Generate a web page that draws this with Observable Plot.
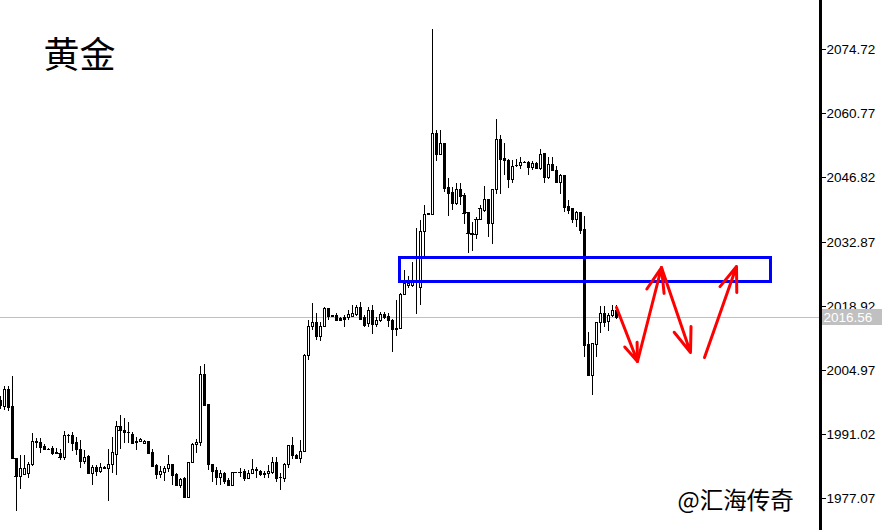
<!DOCTYPE html>
<html><head><meta charset="utf-8">
<script src="https://cdn.jsdelivr.net/npm/d3@7"></script>
<script src="https://cdn.jsdelivr.net/npm/@observablehq/plot@0.6"></script>
<style>body{margin:0;background:#fff;} #chart svg{display:block}</style>
</head><body><div id="chart"></div>
<script>
// OHLC of each bar (bar index = position in arrays)
const opens = [1998.5,1997.2,2000.8,1997.2,1985.9,1982.0,1982.4,1982.5,1984.5,1989.6,
1989.3,1988.4,1987.9,1988.0,1987.2,1987.0,1986.1,1990.9,1990.9,1989.4,
1987.8,1985.1,1986.3,1982.5,1983.8,1983.1,1983.8,1983.6,1984.5,1986.8,
1992.8,1992.0,1991.6,1991.1,1989.6,1989.5,1989.0,1989.5,1987.1,1984.3,
1982.3,1982.9,1983.6,1984.5,1982.3,1979.9,1981.5,1977.4,1984.9,1988.8,
1989.3,2004.2,1997.5,1984.6,1983.2,1981.8,1982.5,1981.0,1979.9,1982.7,
1982.7,1983.0,1981.6,1982.5,1983.5,1983.0,1982.5,1982.5,1982.9,1984.9,
1981.8,1981.6,1984.5,1988.6,1986.6,1985.9,1987.3,2008.3,2014.5,2015.3,
2012.4,2014.5,2018.4,2016.9,2016.9,2016.3,2016.4,2016.4,2016.8,2017.1,
2018.7,2016.4,2015.1,2018.1,2015.0,2015.8,2017.1,2016.6,2015.9,2013.8,
2014.0,2021.4,2023.4,2023.4,2024.0,2023.0,2035.2,2038.9,2038.9,2056.5,
2051.9,2054.4,2044.7,2043.6,2041.2,2044.4,2042.9,2039.3,2034.8,2034.6,
2037.8,2039.7,2042.1,2037.0,2044.4,2055.2,2051.1,2050.7,2046.4,2049.6,
2049.6,2050.2,2050.2,2049.1,2050.0,2048.8,2052.2,2047.0,2049.8,2048.5,
2045.8,2047.3,2040.6,2040.2,2037.8,2039.3,2035.6,2010.6,2003.8,2010.7,
2015.3,2017.3,2015.6,2016.9,2018.0];
const highs = [1999.4,2001.5,2001.5,2003.7,1985.9,1986.6,1986.6,1984.9,1991.3,1990.1,
1990.1,1988.8,1988.0,1988.4,1988.1,1987.7,1991.7,1991.1,1991.5,1990.4,
1989.8,1987.6,1986.5,1984.3,1984.3,1984.7,1984.0,1987.7,1990.5,1993.9,
1995.2,1994.5,1993.7,1991.5,1990.4,1990.3,1989.8,1989.6,1987.7,1984.6,
1984.0,1984.1,1986.6,1984.5,1982.5,1981.6,1981.8,1985.0,1989.0,1989.9,
2005.8,2006.3,1997.5,1984.6,1983.8,1983.2,1982.9,1981.4,1982.9,1982.8,
1983.6,1983.4,1983.2,1985.6,1983.8,1983.2,1983.0,1984.3,1986.1,1986.1,
1982.5,1984.7,1988.7,1990.4,1986.8,1989.8,2008.5,2015.8,2019.5,2017.3,
2015.3,2018.7,2018.4,2017.0,2017.3,2016.5,2016.9,2018.0,2019.1,2019.1,
2019.7,2016.9,2018.7,2019.1,2016.5,2017.6,2017.6,2017.4,2016.0,2020.1,
2021.6,2026.8,2025.3,2028.5,2035.9,2037.5,2040.8,2039.0,2079.1,2057.1,
2057.1,2054.4,2046.6,2044.7,2045.5,2045.5,2043.4,2039.3,2037.1,2038.2,
2040.8,2045.0,2042.1,2044.4,2059.6,2056.0,2054.2,2050.9,2050.5,2050.9,
2051.3,2050.3,2050.3,2050.4,2050.2,2053.1,2052.2,2051.3,2051.3,2049.4,
2047.5,2047.3,2041.9,2040.2,2039.5,2039.3,2038.4,2013.3,2010.9,2015.4,
2018.9,2018.9,2017.3,2019.1,2019.1];
const lows = [1996.5,1996.3,1996.1,1985.8,1974.3,1979.2,1982.1,1981.4,1984.0,1988.1,
1987.0,1987.6,1987.8,1986.5,1986.7,1985.4,1985.4,1989.0,1987.4,1986.5,
1983.6,1984.6,1982.4,1979.9,1982.0,1982.5,1983.5,1976.6,1982.5,1982.1,
1987.9,1989.2,1989.0,1989.0,1987.6,1989.4,1988.9,1986.7,1984.0,1981.2,
1981.4,1980.9,1982.9,1979.9,1979.7,1979.3,1977.4,1977.2,1984.9,1987.0,
1988.4,1997.4,1983.2,1980.7,1979.9,1979.9,1980.1,1979.7,1979.9,1982.6,
1981.8,1980.9,1981.4,1982.4,1981.6,1981.9,1981.6,1981.6,1982.4,1980.7,
1978.9,1980.7,1983.6,1985.7,1985.7,1984.7,1987.1,2007.1,2013.7,2011.5,
2011.3,2014.3,2015.8,2016.8,2015.6,2015.6,2014.3,2015.9,2016.5,2016.7,
2015.8,2014.3,2014.3,2012.7,2014.3,2015.4,2016.1,2014.3,2008.8,2012.3,
2013.8,2021.2,2022.7,2023.0,2017.1,2019.1,2029.4,2038.9,2038.9,2050.4,
2051.6,2043.6,2038.4,2039.8,2040.8,2040.8,2036.7,2030.5,2030.9,2033.5,
2037.6,2039.3,2033.9,2032.4,2043.3,2043.3,2047.3,2044.5,2045.5,2049.1,
2048.7,2050.0,2047.3,2048.4,2048.7,2048.5,2045.5,2046.4,2048.4,2045.5,
2043.3,2039.3,2038.9,2036.9,2036.0,2034.6,2007.9,2003.8,1999.5,2007.9,
2013.1,2014.3,2013.5,2016.5,2016.1];
const closes = [1997.3,2000.8,1997.0,1985.9,1982.0,1983.6,1983.7,1984.5,1989.5,1989.3,
1988.3,1987.9,1987.8,1987.0,1987.0,1986.1,1990.9,1990.8,1989.2,1987.7,
1985.1,1986.1,1982.5,1983.8,1983.0,1983.8,1983.7,1984.5,1987.1,1992.8,
1991.9,1991.5,1991.5,1989.2,1989.4,1990.0,1989.5,1987.0,1984.1,1982.3,
1983.0,1983.6,1984.5,1982.1,1979.9,1981.2,1977.4,1984.9,1988.8,1989.3,
2004.2,1997.4,1984.6,1983.1,1981.8,1982.5,1980.9,1979.9,1982.7,1982.8,
1982.9,1981.6,1982.5,1983.4,1983.3,1982.3,1982.3,1983.0,1984.9,1981.6,
1981.7,1984.5,1988.6,1986.6,1985.9,1987.3,2008.3,2014.5,2015.3,2012.4,
2014.5,2018.5,2016.8,2016.8,2015.9,2015.9,2016.1,2017.1,2017.3,2018.7,
2016.1,2014.8,2018.1,2015.0,2015.8,2017.1,2016.5,2015.8,2013.8,2014.2,
2021.4,2023.8,2023.8,2024.0,2024.3,2035.2,2038.9,2039.0,2056.5,2052.0,
2054.4,2044.5,2043.4,2041.2,2044.4,2042.7,2039.1,2034.8,2034.6,2037.8,
2040.1,2042.1,2037.0,2044.4,2055.2,2050.9,2050.7,2046.4,2049.4,2049.5,
2050.2,2050.1,2049.1,2050.0,2048.8,2052.0,2047.0,2049.8,2048.5,2045.8,
2047.3,2040.4,2039.8,2037.8,2039.3,2035.4,2010.4,2003.8,2010.9,2015.3,
2017.3,2015.4,2016.9,2018.0,2016.56];

const yTicks = [1977.07, 1991.02, 2004.97, 2018.92, 2032.87, 2046.82, 2060.77, 2074.72];
const lastPrice = 2016.56;
const titleText = "黄金";
const watermarkText = "@汇海传奇";

// annotation: blue zone (bar index range, price range)
const zoneBars = [99.8, 192.6];
const zonePrices = [2024.3, 2029.6];
// annotation: red arrows (bar index / price)
const arrowFromBar = [154.1, 159.2, 165.3, 176.1];
const arrowFromPrice = [2018.7, 2007.0, 2027.3, 2007.8];
const arrowToBar = [159.2, 165.3, 172.4, 184.1];
const arrowToPrice = [2007.0, 2027.3, 2008.9, 2027.6];

const axisBar = 205;            // price axis position (bar units)
const priceBoxBars = [205.4, 220.4];
const priceBoxHalf = 1.75;

const candles = opens.map((o, i) => ({i, open: o, high: highs[i], low: lows[i], close: closes[i]}));
const arrows = arrowFromBar.map((b, k) => ({x1: b, y1: arrowFromPrice[k], x2: arrowToBar[k], y2: arrowToPrice[k]}));
const zone = {x1: zoneBars[0], x2: zoneBars[1], y1: zonePrices[0], y2: zonePrices[1]};

const axisFont = "'Liberation Sans', Arial, sans-serif";
const cjkFont = "'Noto Sans CJK SC', sans-serif";
const crisp = "crispEdges";

const chart = Plot.plot({
  width: 895, height: 530,
  marginTop: 0, marginBottom: 0, marginLeft: 0, marginRight: 75,
  style: {background: "white"},
  x: {domain: [0, axisBar], axis: null, round: true},
  y: {domain: [1970.20, 2085.37], axis: null, round: true},
  marks: [
    Plot.ruleY([lastPrice], {stroke: "#c0c0c0", strokeWidth: 1, shapeRendering: crisp}),
    Plot.ruleX(candles, {x: "i", y1: "low", y2: "high", stroke: "black", strokeWidth: 1, shapeRendering: crisp}),
    Plot.rect(candles, {x1: d => d.i - 0.25, x2: d => d.i + 0.25, y1: "open", y2: "close",
      fill: d => d.close >= d.open ? "white" : "black", stroke: "black", strokeWidth: 1, shapeRendering: crisp}),
    Plot.ruleY(candles, {y: "open", x1: d => d.i - 0.375, x2: d => d.i + 0.375, stroke: "black", shapeRendering: crisp}),
    Plot.ruleY(candles, {y: "close", x1: d => d.i - 0.375, x2: d => d.i + 0.375, stroke: "black", shapeRendering: crisp}),
    Plot.rect([zone], {x1: "x1", x2: "x2", y1: "y1", y2: "y2", fill: "none", stroke: "#0000ff", strokeWidth: 3, shapeRendering: crisp}),
    Plot.arrow(arrows, {x1: "x1", y1: "y1", x2: "x2", y2: "y2", stroke: "#ff0000", strokeWidth: 3, headLength: 13, headAngle: 40}),
    Plot.ruleX([axisBar], {stroke: "black", strokeWidth: 3, shapeRendering: crisp}),
    Plot.axisY(yTicks, {anchor: "right", tickSize: 5, tickPadding: 1, tickFormat: d => d.toFixed(2),
      fontSize: 13.5, fontFamily: axisFont, label: null, color: "black"}),
    Plot.rect([lastPrice], {x1: priceBoxBars[0], x2: priceBoxBars[1], y1: d => d - priceBoxHalf, y2: d => d + priceBoxHalf, fill: "#c0c0c0", shapeRendering: crisp}),
    Plot.text([lastPrice], {x: priceBoxBars[0] + 0.4, y: d => d, text: d => d.toFixed(2), fill: "white",
      textAnchor: "start", fontSize: 13.5, fontFamily: axisFont}),
    Plot.text([titleText], {frameAnchor: "top-left", text: d => d, dx: 43, dy: 56, lineAnchor: "middle",
      fontSize: 36, fontFamily: cjkFont, fill: "black"}),
    Plot.text([watermarkText], {frameAnchor: "bottom-left", text: d => d, dx: 677, dy: -29, lineAnchor: "middle",
      textAnchor: "start", fontSize: 23.5, fontFamily: cjkFont, fill: "black"})
  ]
});
document.getElementById("chart").appendChild(chart);
</script>
</body></html>
